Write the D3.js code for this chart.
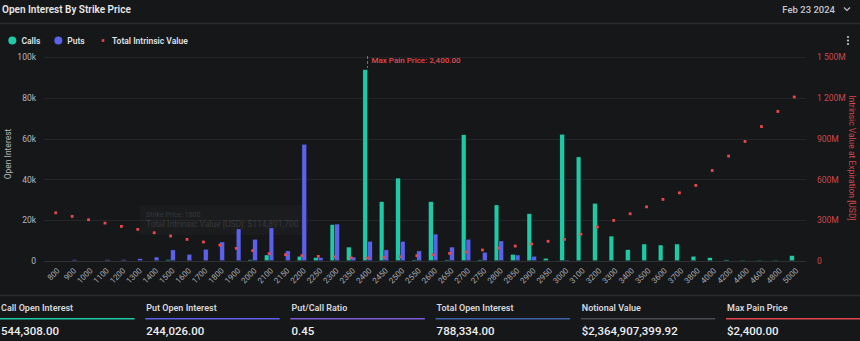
<!DOCTYPE html>
<html>
<head>
<meta charset="utf-8">
<script src="https://cdn.jsdelivr.net/npm/d3@7"></script>
<style>
  html, body { margin: 0; padding: 0; background: #161719; }
  svg { display: block; font-family: Roboto, "Noto Sans", sans-serif; }
</style>
</head>
<body>
<script>
// strikes and open interest per strike
var strikes = [800, 900, 1000, 1100, 1200, 1300, 1400, 1500, 1600, 1700, 1800, 1900, 2000, 2100,
  2150, 2200, 2250, 2300, 2350, 2400, 2450, 2500, 2550, 2600, 2650, 2700, 2750, 2800, 2850, 2900, 2950, 3000,
  3100, 3200, 3300, 3400, 3500, 3600, 3700, 3800,
  4000, 4200, 4400, 4600, 4800, 5000];
var calls = [0, 0, 0, 0, 0, 0, 0, 500, 0, 0, 0, 0, 500, 2800,
  0, 2200, 1500, 17700, 6700, 93900, 29000, 40600, 400, 29000, 400, 61900, 400, 27400, 3100, 23100, 1200, 62100,
  51000, 28200, 12100, 5400, 8200, 7700, 8200, 2200,
  1500, 400, 200, 200, 200, 2500];
var puts = [0, 500, 0, 500, 500, 1000, 1800, 5300, 3100, 5600, 9200, 15600, 10500, 16100,
  4800, 57200, 1500, 18000, 1800, 9500, 5300, 9500, 4800, 13100, 6700, 10500, 4100, 9700, 2800, 2200, 0, 300,
  0, 0, 0, 0, 0, 0, 0, 0,
  0, 0, 0, 0, 0, 0];
// total intrinsic value at expiration, millions USD
var intrinsic = [353, 327, 302, 277, 253, 231, 206, 182, 157, 138, 114.8917, 91, 74, 52,
  44, 37, 32, 29, 22, 20, 25, 29, 37, 44, 54, 64, 79, 93, 108, 123, 143, 157,
  196, 248, 297, 346, 397, 452, 500, 555,
  665, 771, 879, 989, 1100, 1207];
var oiTicks = [0, 20000, 40000, 60000, 80000, 100000];
var ivTicks = [0, 300, 600, 900, 1200, 1500];
var maxPain = 2400;

var statLabels = ["Call Open Interest", "Put Open Interest", "Put/Call Ratio", "Total Open Interest", "Notional Value", "Max Pain Price"];
var statValues = ["544,308.00", "244,026.00", "0.45", "788,334.00", "$2,364,907,399.92", "$2,400.00"];
var statColors = ["#1ec9a6", "#5b61ea", "#7a5ad8", "#3e63ad", "#464b53", "#e0474c"];

var W = 860, H = 341;
var callColor = "#1ec9a6", putColor = "#5b61ea", ivColor = "#e5484d";
var plotLeft = 44, plotRight = 806, plotTop = 57.2, plotBottom = 260.7;

var svg = d3.select("body").append("svg").attr("width", W).attr("height", H);
svg.append("rect").attr("width", W).attr("height", H).attr("fill", "#161719");

// header
svg.append("text").attr("x", 2).attr("y", 12.5).attr("fill", "#e6e7e9")
  .attr("font-size", 10).attr("font-weight", 600).text("Open Interest By Strike Price");
svg.append("text").attr("x", 835).attr("y", 12.5).attr("text-anchor", "end").attr("fill", "#c4c6ca")
  .attr("font-size", 9.5).attr("font-weight", 500).text("Feb 23 2024");
svg.append("path").attr("d", "M844,7.5 L847,10.5 L850,7.5").attr("fill", "none")
  .attr("stroke", "#c4c6ca").attr("stroke-width", 1.1);
svg.append("line").attr("x1", 0).attr("x2", W).attr("y1", 23.5).attr("y2", 23.5)
  .attr("stroke", "#2a2c30").attr("stroke-width", 1.5);

// legend
var legend = svg.append("g").attr("font-size", 8.5).attr("font-weight", 600).attr("fill", "#dfe1e4");
legend.append("circle").attr("cx", 12.3).attr("cy", 40.5).attr("r", 4).attr("fill", callColor);
legend.append("text").attr("x", 21.5).attr("y", 43.5).text("Calls");
legend.append("circle").attr("cx", 58.3).attr("cy", 40.5).attr("r", 4).attr("fill", putColor);
legend.append("text").attr("x", 67.3).attr("y", 43.5).text("Puts");
legend.append("rect").attr("x", 101.7).attr("y", 39.2).attr("width", 2.6).attr("height", 2.6).attr("fill", ivColor);
legend.append("text").attr("x", 112).attr("y", 43.5).text("Total Intrinsic Value");

// menu dots
[37, 40.5, 44].forEach(function(cy) {
  svg.append("circle").attr("cx", 848).attr("cy", cy).attr("r", 1.1).attr("fill", "#c4c6ca");
});

// scales
var x0 = d3.scaleBand().domain(strikes).range([plotLeft, plotRight]).padding(0.43);
var x1 = d3.scaleBand().domain(["calls", "puts"]).range([0, x0.bandwidth()]);
var y = d3.scaleLinear().domain([0, 100000]).range([plotBottom, plotTop]);
var yr = d3.scaleLinear().domain([0, 1500]).range([plotBottom, plotTop]);
var cx = function(s) { return x0(s) + x0.bandwidth() / 2; };

// gridlines
svg.append("g").selectAll("line").data(oiTicks).join("line")
  .attr("x1", plotLeft).attr("x2", plotRight)
  .attr("y1", function(d) { return Math.round(y(d)) + 0.5; })
  .attr("y2", function(d) { return Math.round(y(d)) + 0.5; })
  .attr("stroke", function(d) { return d === 0 ? "#2e3034" : "#232528"; }).attr("stroke-width", 1);

// left axis
var yAxis = d3.axisLeft(y).tickValues(oiTicks).tickSize(0).tickPadding(0)
  .tickFormat(function(d) { return d === 0 ? "0" : (d / 1000) + "k"; });
var gy = svg.append("g").attr("transform", "translate(36,0)").call(yAxis);
gy.select(".domain").remove();
gy.selectAll("text").attr("fill", "#b4b7bc").attr("font-size", 8.5).attr("font-family", "Roboto");

svg.append("text").attr("transform", "translate(10.5,154) rotate(-90)").attr("text-anchor", "middle")
  .attr("fill", "#b4b7bc").attr("font-size", 8.5).text("Open Interest");

// right axis
var spaceFmt = d3.formatLocale({ decimal: ".", thousands: " ", grouping: [3], currency: ["", ""] }).format(",");
var yrAxis = d3.axisRight(yr).tickValues(ivTicks).tickSize(0).tickPadding(0)
  .tickFormat(function(d) { return d === 0 ? "0" : spaceFmt(d) + "M"; });
var gr = svg.append("g").attr("transform", "translate(817,0)").call(yrAxis);
gr.select(".domain").remove();
gr.selectAll("text").attr("fill", "#d0474b").attr("font-size", 8.5).attr("font-family", "Roboto");

svg.append("text").attr("transform", "translate(849,158) rotate(90)").attr("text-anchor", "middle")
  .attr("fill", "#d0474b").attr("font-size", 8.5).text("Intrinsic Value at Expiration [USD]");

// x axis labels
var xAxis = d3.axisBottom(x0).tickSize(0).tickPadding(0);
var gx = svg.append("g").attr("transform", "translate(0,269)").call(xAxis);
gx.select(".domain").remove();
gx.selectAll("text").attr("fill", "#a9acb1").attr("font-size", 8).attr("font-family", "Roboto")
  .attr("text-anchor", "end").attr("dy", "0.6em").attr("dx", "0.2em")
  .attr("transform", "rotate(-45)");

// faded hover tooltip
var tip = svg.append("g").attr("opacity", 0.13);
tip.append("rect").attr("x", 140).attr("y", 205).attr("width", 168).attr("height", 30).attr("rx", 2)
  .attr("fill", "#3a3d42");
tip.append("text").attr("x", 146).attr("y", 216.5).attr("fill", "#ffffff").attr("font-size", 7)
  .text("Strike Price: " + strikes[10]);
tip.append("text").attr("x", 146).attr("y", 227).attr("fill", "#ffffff").attr("font-size", 8.5)
  .text("Total Intrinsic Value [USD]: " + d3.format("$,.0f")(Math.round(intrinsic[10] * 1e6)));

// bars
var rows = strikes.map(function(s, i) { return { strike: s, calls: calls[i], puts: puts[i], iv: intrinsic[i] }; });
var groups = svg.append("g").selectAll("g").data(rows).join("g")
  .attr("transform", function(d) { return "translate(" + x0(d.strike) + ",0)"; });
groups.selectAll("rect").data(function(d) {
    return [{ key: "calls", v: d.calls }, { key: "puts", v: d.puts }].filter(function(e) { return e.v > 0; });
  }).join("rect")
  .attr("x", function(e) { return x1(e.key); })
  .attr("width", x1.bandwidth())
  .attr("y", function(e) { return y(e.v); })
  .attr("height", function(e) { return plotBottom - y(e.v); })
  .attr("fill", function(e) { return e.key === "calls" ? callColor : putColor; })
  .attr("stroke", "#161719").attr("stroke-width", 0.4);

// intrinsic value dots
svg.append("g").selectAll("rect").data(rows).join("rect")
  .attr("x", function(d) { return cx(d.strike) - 1.4; })
  .attr("y", function(d) { return yr(d.iv) - 1.4; })
  .attr("width", 2.8).attr("height", 2.8).attr("fill", ivColor);

// max pain marker
var mp = cx(maxPain);
svg.append("line").attr("x1", mp).attr("x2", mp).attr("y1", 56).attr("y2", 68)
  .attr("stroke", ivColor).attr("stroke-width", 1).attr("stroke-dasharray", "3,2");
svg.append("text").attr("x", mp + 4).attr("y", 63).attr("fill", ivColor).attr("font-size", 8)
  .attr("font-weight", 500).text("Max Pain Price: " + d3.format(",.2f")(maxPain));

// summary strip
svg.append("line").attr("x1", 0).attr("x2", W).attr("y1", 295.5).attr("y2", 295.5)
  .attr("stroke", "#2a2c30").attr("stroke-width", 1.5);
var colX = d3.scaleBand().domain(d3.range(statLabels.length)).range([0, 870]);
var stats = svg.append("g").selectAll("g").data(statLabels).join("g")
  .attr("transform", function(d, i) { return "translate(" + (colX(i) + i * 0.2) + ",0)"; });
stats.append("text").attr("x", 1).attr("y", 310.5).attr("fill", "#d6d8db").attr("font-size", 9)
  .attr("font-weight", 600).text(function(d) { return d; });
stats.append("rect").attr("x", 0).attr("y", 318).attr("width", 134.5).attr("height", 1.5)
  .attr("fill", function(d, i) { return statColors[i]; });
stats.append("text").attr("x", 1).attr("y", 335).attr("fill", "#eceef0").attr("font-size", 11.5)
  .attr("font-weight", 500).text(function(d, i) { return statValues[i]; });
</script>
</body>
</html>
